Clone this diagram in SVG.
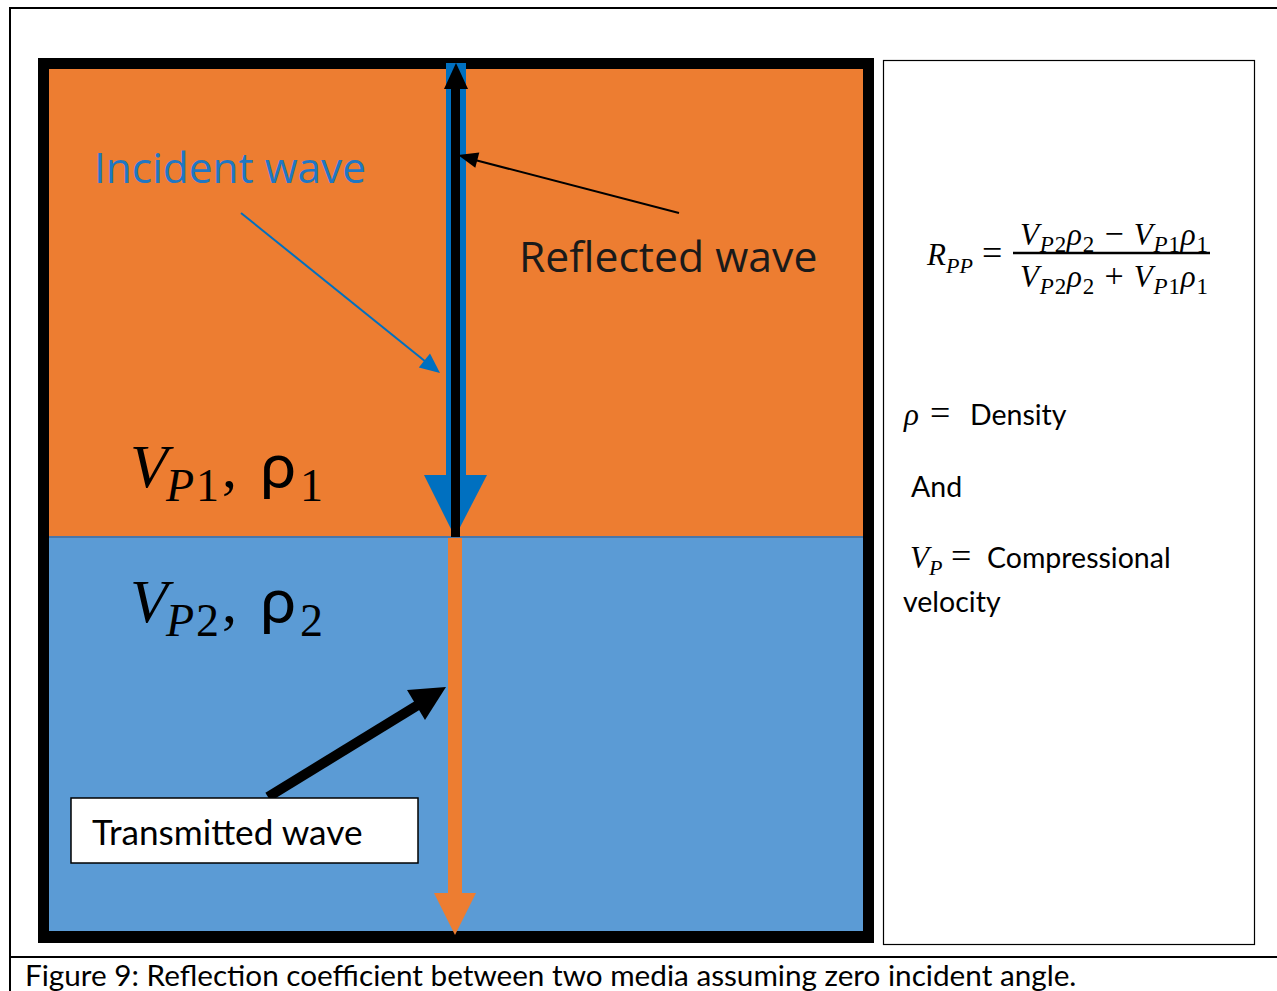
<svg xmlns="http://www.w3.org/2000/svg" width="1277" height="991" viewBox="0 0 1277 991">
<style>
.frame{fill:none;stroke:#000;stroke-width:2}
.body{font-family:Lato,"Open Sans",sans-serif;fill:#000}
.seg{font-family:"Open Sans",Lato,sans-serif}
.math{font-family:"Liberation Serif","DejaVu Serif",serif;font-style:italic;fill:#000}
.up{font-family:"Liberation Serif","DejaVu Serif",serif;font-style:normal;fill:#000}
</style>
<rect x="0" y="0" width="1277" height="991" fill="#fff"/>
<g id="page-frame">
<line x1="9" y1="8" x2="1277" y2="8" class="frame"/>
<line x1="10" y1="8" x2="10" y2="991" class="frame"/>
<line x1="10" y1="957" x2="1277" y2="957" class="frame"/>
</g>
<g id="media">
<rect x="38" y="58" width="836" height="885" fill="#000"/>
<rect x="49" y="69" width="814" height="468" fill="#ED7D31"/>
<rect x="49" y="537" width="814" height="394" fill="#5B9BD5"/>
<line x1="49" y1="537" x2="863" y2="537" stroke="#4A76A8" stroke-width="2"/>
</g>
<g id="medium1-label">
<text class="math" x="130" y="487" font-size="62">V</text>
<text class="math" x="166" y="501" font-size="46">P</text>
<text class="up" x="196" y="501" font-size="46">1</text>
<text class="up" x="222" y="487" font-size="60">,</text>
<text x="260" y="488" font-size="64" font-family="Lato,sans-serif">ρ</text>
<text class="up" x="300" y="501" font-size="46">1</text>
</g>
<g id="medium2-label">
<text class="math" x="130" y="622" font-size="62">V</text>
<text class="math" x="166" y="636" font-size="46">P</text>
<text class="up" x="196" y="636" font-size="46">2</text>
<text class="up" x="222" y="622" font-size="60">,</text>
<text x="260" y="623" font-size="64" font-family="Lato,sans-serif">ρ</text>
<text class="up" x="300" y="636" font-size="46">2</text>
</g>
<g id="connectors">
<rect x="446" y="63" width="20" height="414" fill="#0070C0"/>
<polygon points="424,475 487,475 455,537" fill="#0070C0"/>
<rect x="451" y="86" width="9" height="451" fill="#000"/>
<polygon points="444,89 468,89 456,63" fill="#000"/>
<rect x="448" y="538" width="14" height="357" fill="#ED7D31"/>
<polygon points="434,893 476,893 455,935" fill="#ED7D31"/>
<line x1="241" y1="213" x2="426" y2="362" stroke="#0070C0" stroke-width="2"/>
<polygon points="440,373 418.8,367.5 430,353.5" fill="#0070C0"/>
<line x1="679" y1="213" x2="475" y2="160" stroke="#000" stroke-width="2"/>
<polygon points="458,155 479.3,152.4 475.3,167.8" fill="#000"/>
<line x1="268" y1="797" x2="418" y2="705" stroke="#000" stroke-width="10"/>
<polygon points="446,687 407,690 425,720" fill="#000"/>
</g>
<g id="incident-label">
<text class="seg" x="94" y="183" font-size="42.4" fill="#1F77C4">Incident wave</text>
</g>
<g id="reflected-label">
<text class="seg" x="519" y="272" font-size="42.7" fill="#1A1A1A">Reflected wave</text>
</g>
<g id="transmitted-label">
<rect x="71" y="798" width="347" height="65" fill="#fff" stroke="#000" stroke-width="1.5"/>
<text class="body" x="92" y="845" font-size="35.2">Transmitted wave</text>
</g>
<g id="legend-panel">
<rect x="883.5" y="60.5" width="371" height="884" fill="#fff" stroke="#000" stroke-width="1.2"/>
<text class="math" x="927" y="265" font-size="31">R<tspan font-size="22" dy="8">PP</tspan></text>
<text class="up" x="982" y="265" font-size="36">=</text>
<text class="math" x="1020" y="245" font-size="31" textLength="188" lengthAdjust="spacing">V<tspan font-size="23" dy="7">P</tspan><tspan font-size="23" font-style="normal">2</tspan><tspan dy="-7">ρ</tspan><tspan font-size="23" dy="7" font-style="normal">2</tspan><tspan dy="-7" font-style="normal" font-size="34"> − </tspan>V<tspan font-size="23" dy="7">P</tspan><tspan font-size="23" font-style="normal">1</tspan><tspan dy="-7">ρ</tspan><tspan font-size="23" dy="7" font-style="normal">1</tspan></text>
<line x1="1013" y1="253" x2="1210" y2="253" stroke="#000" stroke-width="2.5"/>
<text class="math" x="1020" y="287" font-size="31" textLength="188" lengthAdjust="spacing">V<tspan font-size="23" dy="7">P</tspan><tspan font-size="23" font-style="normal">2</tspan><tspan dy="-7">ρ</tspan><tspan font-size="23" dy="7" font-style="normal">2</tspan><tspan dy="-7" font-style="normal" font-size="34"> + </tspan>V<tspan font-size="23" dy="7">P</tspan><tspan font-size="23" font-style="normal">1</tspan><tspan dy="-7">ρ</tspan><tspan font-size="23" dy="7" font-style="normal">1</tspan></text>
<text class="math" x="904" y="425" font-size="31">ρ</text>
<text class="up" x="930" y="425" font-size="36">=</text>
<text class="body" x="970" y="425" font-size="28.5">Density</text>
<text class="body" x="911" y="497" font-size="28.5">And</text>
<text class="math" x="910" y="568" font-size="31">V<tspan font-size="22" dy="7">P</tspan></text>
<text class="up" x="951" y="568" font-size="36">=</text>
<text class="body" x="987" y="568" font-size="28.5">Compressional</text>
<text class="body" x="903" y="612" font-size="28.5">velocity</text>
</g>
<g id="caption">
<text class="body" x="25" y="986" font-size="29.7">Figure 9: Reflection coefficient between two media assuming zero incident angle.</text>
</g>
</svg>
